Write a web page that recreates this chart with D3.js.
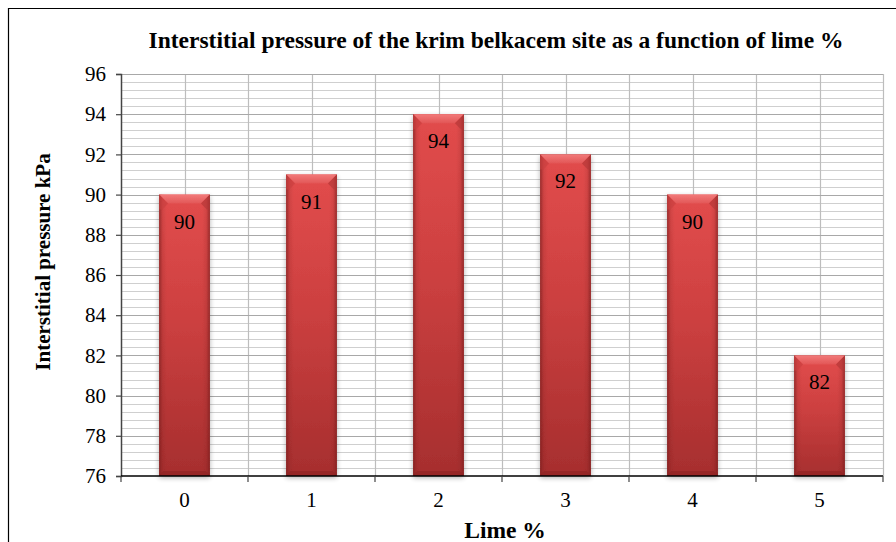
<!DOCTYPE html>
<html><head><meta charset="utf-8">
<script src="https://cdn.jsdelivr.net/npm/d3@7"></script>
<style>body{margin:0;background:#fff}svg{display:block}text{font-family:"Liberation Serif","Times New Roman",serif}</style>
</head><body>
<svg id="c" width="896" height="542"></svg>
<script>
const categories = ["0","1","2","3","4","5"];
const values = [90,91,94,92,90,82];
const yTicks = [76,78,80,82,84,86,88,90,92,94,96];
const title = "Interstitial pressure of the krim belkacem site as a function of lime %";
const xTitle = "Lime %";
const yTitle = "Interstitial pressure kPa";

const svg = d3.select("#c");
const m = {l:121, r:883, t:74, b:476};
const x = d3.scaleBand().domain(categories).range([m.l, m.r]);
const y = d3.scaleLinear().domain([76,96]).range([m.b, m.t]);
const FF = "Liberation Serif, Times New Roman, serif";

// outer border
svg.append("path").attr("d","M8.5,542 L8.5,8.5 L896,8.5").attr("fill","none").attr("stroke","#000").attr("stroke-width",1.2);

const defs = svg.append("defs");
const g1 = defs.append("linearGradient").attr("id","barG").attr("x1",0).attr("x2",1).attr("y1",0).attr("y2",0);
[[0,"#7a1e1e",0.7],[0.07,"#7a1e1e",0.15],[0.15,"#7a1e1e",0],[0.85,"#7a1e1e",0],[0.93,"#7a1e1e",0.15],[1,"#7a1e1e",0.7]].forEach(s=>g1.append("stop").attr("offset",s[0]).attr("stop-color",s[1]).attr("stop-opacity",s[2]));
const g2 = defs.append("linearGradient").attr("id","topG").attr("x1",0).attr("x2",0).attr("y1",0).attr("y2",1);
[[0,"#f27a7a"],[1,"#e25656"]].forEach(s=>g2.append("stop").attr("offset",s[0]).attr("stop-color",s[1]));
const g3 = defs.append("linearGradient").attr("id","bodyV").attr("x1",0).attr("x2",0).attr("y1",0).attr("y2",1);
[[0,"#e24c4c"],[0.45,"#cc4040"],[1,"#a62e2e"]].forEach(s=>g3.append("stop").attr("offset",s[0]).attr("stop-color",s[1]));
const flt = defs.append("filter").attr("id","sh").attr("x","-20%").attr("y","-5%").attr("width","140%").attr("height","115%");
flt.append("feGaussianBlur").attr("in","SourceAlpha").attr("stdDeviation",2.5).attr("result","b");
flt.append("feOffset").attr("in","b").attr("dx",0).attr("dy",2).attr("result","o");
flt.append("feComponentTransfer").attr("in","o").attr("result","o2").append("feFuncA").attr("type","linear").attr("slope",0.3);
const fm = flt.append("feMerge"); fm.append("feMergeNode").attr("in","o2"); fm.append("feMergeNode").attr("in","SourceGraphic");

// minor gridlines
const minor = d3.range(76,96.001,0.4).map(v=>+v.toFixed(1)).filter(v=>!yTicks.includes(v));
svg.append("g").selectAll("line").data(minor).join("line")
  .attr("x1",m.l).attr("x2",m.r).attr("y1",d=>Math.round(y(d))+0.5).attr("y2",d=>Math.round(y(d))+0.5)
  .attr("stroke","#cfcfcf").attr("stroke-width",1);
// vertical gridlines (half category)
const vx = [];
categories.forEach((c,i)=>{ vx.push(x(c)+x.bandwidth()/2); if(i>0) vx.push(x(c)); });
vx.push(m.r);
svg.append("g").selectAll("line").data(vx).join("line")
  .attr("x1",d=>Math.round(d)+0.5).attr("x2",d=>Math.round(d)+0.5).attr("y1",m.t).attr("y2",m.b)
  .attr("stroke","#bdbdbd").attr("stroke-width",1.2);
// major gridlines
svg.append("g").selectAll("line").data(yTicks.slice(1)).join("line")
  .attr("x1",m.l).attr("x2",m.r).attr("y1",d=>Math.round(y(d))+0.5).attr("y2",d=>Math.round(y(d))+0.5)
  .attr("stroke","#a8a8a8").attr("stroke-width",1.2);

// bars
const bw = x.bandwidth()*0.4;
const bev = 9, side = 9;
const bars = svg.append("g").selectAll("g").data(values).join("g").attr("filter","url(#sh)");
bars.each(function(v,i){
  const g = d3.select(this);
  const cx = x(categories[i]) + x.bandwidth()/2;
  const x0 = cx-bw/2, x1 = cx+bw/2, yt = y(v), yb = y(76);
  g.append("rect").attr("x",x0).attr("y",yt).attr("width",bw).attr("height",yb-yt).attr("fill","url(#bodyV)");
  g.append("rect").attr("x",x0).attr("y",yt).attr("width",bw).attr("height",yb-yt).attr("fill","url(#barG)");
  g.append("path").attr("d",`M${x0},${yt} L${x1},${yt} L${x1-side},${yt+bev} L${x0+side},${yt+bev} Z`).attr("fill","url(#topG)");
  g.append("path").attr("d",`M${x0},${yt} L${x0+side},${yt+bev} L${x0+3},${yt+bev+6} L${x0},${yt+bev+6} Z`).attr("fill","#c84040").attr("opacity",0.6);
  g.append("path").attr("d",`M${x1},${yt} L${x1-side},${yt+bev} L${x1-3},${yt+bev+6} L${x1},${yt+bev+6} Z`).attr("fill","#b03636").attr("opacity",0.6);
  g.append("path").attr("d",`M${x0},${yb} L${x1},${yb} L${x1-4},${yb-5} L${x0+4},${yb-5} Z`).attr("fill","#8a2222").attr("opacity",0.55);
});
// labels
svg.append("g").selectAll("text").data(values).join("text")
  .attr("x",(d,i)=>x(categories[i])+x.bandwidth()/2).attr("y",d=>y(d)+34)
  .attr("text-anchor","middle").attr("font-family",FF).attr("font-size",21).attr("fill","#000").text(d=>d);

// axes
const ya = svg.append("g").attr("transform",`translate(${m.l},0)`)
  .call(d3.axisLeft(y).tickValues(yTicks).tickSize(5).tickPadding(10).tickFormat(d3.format("d")));
ya.select(".domain").attr("stroke","#444").attr("stroke-width",1.5);
ya.selectAll(".tick line").attr("stroke","#444").attr("stroke-width",1.2);
ya.selectAll("text").attr("font-size",21).attr("font-family",FF).attr("fill","#000");

const xa = svg.append("g").attr("transform",`translate(0,${m.b})`)
  .call(d3.axisBottom(x).tickSize(0).tickPadding(16));
xa.select(".domain").attr("stroke","#000").attr("stroke-width",1.5).attr("d",`M${m.l},0H${m.r}`);
xa.selectAll("text").attr("font-size",21).attr("font-family",FF).attr("fill","#000");
svg.append("g").selectAll("line").data(categories.map(c=>x(c)).concat([m.r])).join("line")
  .attr("x1",d=>d).attr("x2",d=>d).attr("y1",m.b).attr("y2",m.b+6).attr("stroke","#444").attr("stroke-width",1.2);

// titles
svg.append("text").attr("x",496).attr("y",48).attr("text-anchor","middle").attr("font-family",FF).attr("font-size",23.5).attr("font-weight","bold").text(title);
svg.append("text").attr("x",505).attr("y",538).attr("text-anchor","middle").attr("font-family",FF).attr("font-size",23.5).attr("font-weight","bold").text(xTitle);
svg.append("text").attr("transform","translate(50,262) rotate(-90)").attr("text-anchor","middle").attr("font-family",FF).attr("font-size",21).attr("font-weight","bold").text(yTitle);
</script>
</body></html>
